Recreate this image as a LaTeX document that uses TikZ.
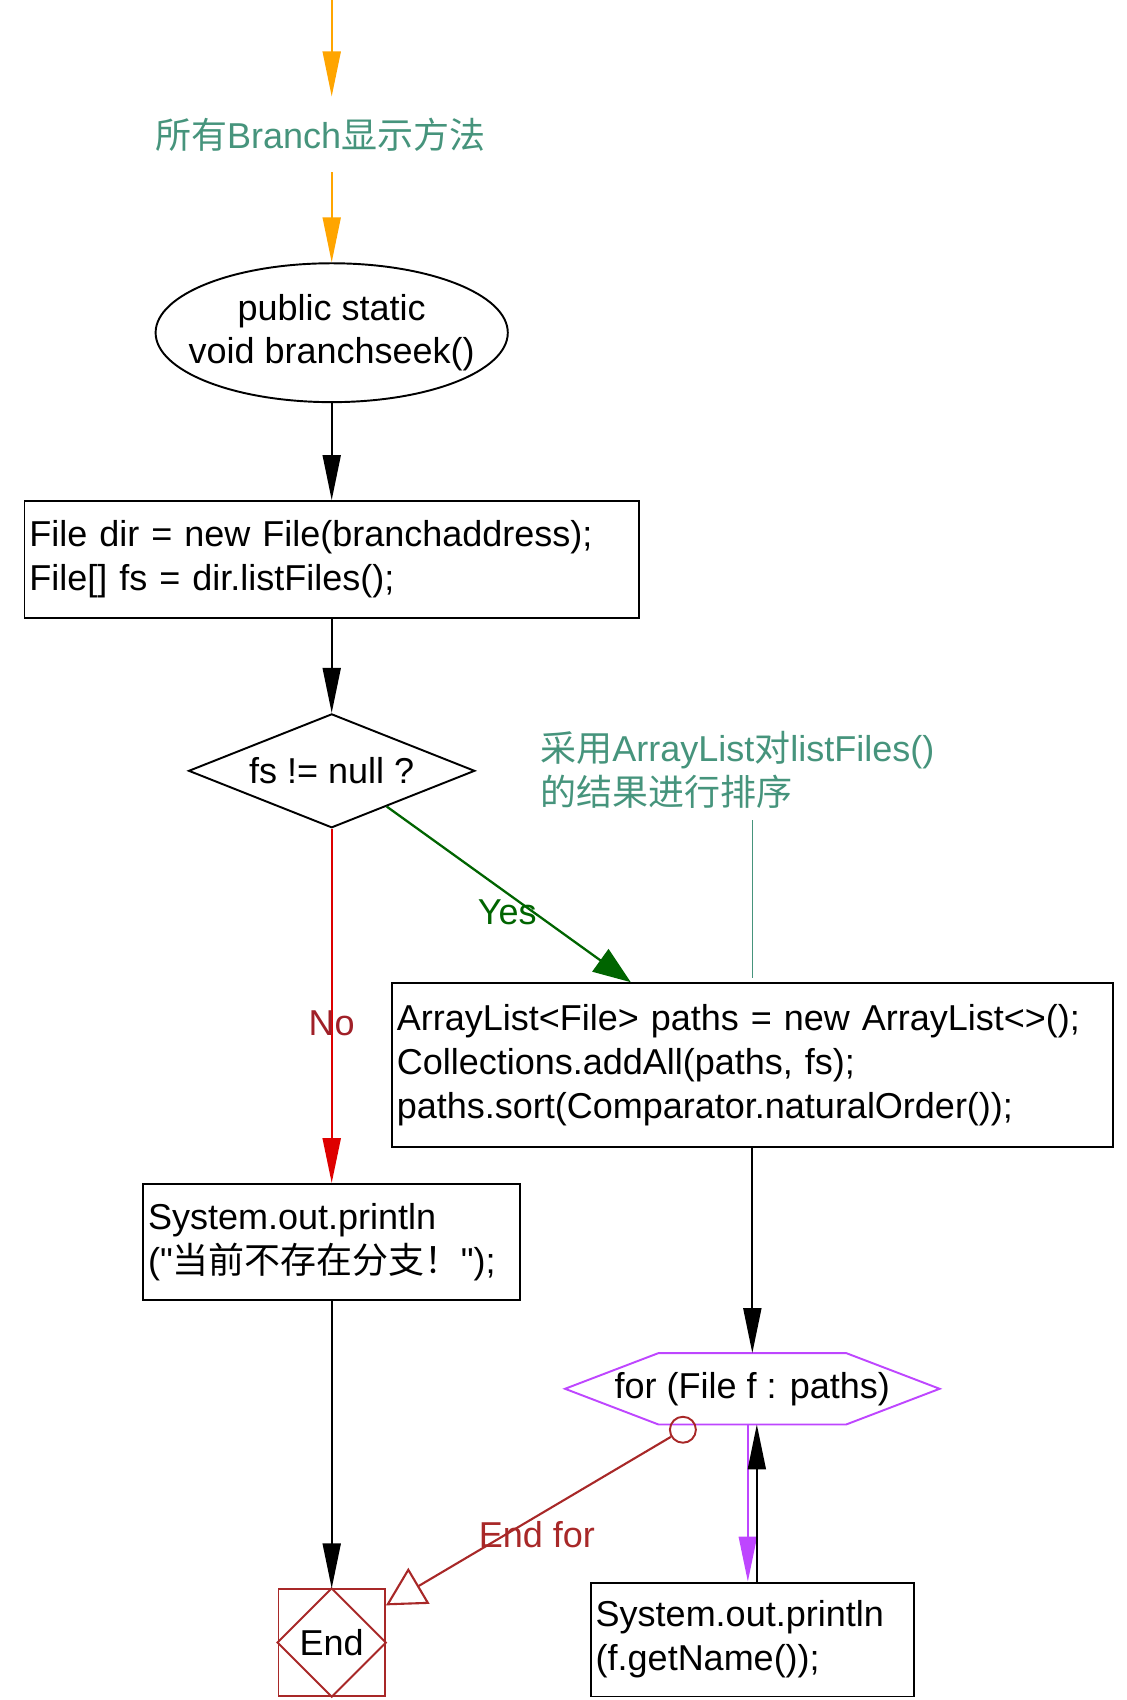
\documentclass[tikz,border=0pt]{standalone}
\usepackage{fontspec}
\setmainfont{Liberation Sans}
\newfontfamily\plainfont{Liberation Sans}
\newfontfamily\cjk{Noto Sans CJK SC}
\usepackage{tikz}
\usetikzlibrary{arrows.meta,positioning,shapes.geometric,calc}
\definecolor{flowOrange}{RGB}{255,165,0}
\definecolor{noteTeal}{RGB}{70,148,124}
\definecolor{yesGreen}{RGB}{0,100,0}
\definecolor{noRed}{RGB}{222,0,0}
\definecolor{noText}{RGB}{160,32,40}
\definecolor{endBrown}{RGB}{168,40,40}
\definecolor{loopPurple}{RGB}{190,70,255}

\begin{document}
\begin{tikzpicture}[
    font=\fontsize{20.5}{25}\selectfont,
    line width=1.1pt,
    box/.style={
        draw=black,
        line width=1.1pt,
        inner sep=0.1cm,
        align=left
    },
    arr/.style={-{Triangle[length=0.9cm,width=0.36cm]}, line width=1.1pt},
    inarr/.style={arr, draw=flowOrange, fill=flowOrange},
    yesarr/.style={-{Triangle[length=0.75cm,width=0.55cm]}, draw=yesGreen, line width=1.3pt},
    noarr/.style={arr, draw=noRed, line width=1.3pt},
    looparr/.style={arr, draw=loopPurple, line width=1.3pt},
    endarr/.style={-{Triangle[open,length=0.77cm,width=0.83cm]}, draw=endBrown, line width=1.2pt},
    noteline/.style={draw=noteTeal, line width=0.9pt}
]
\useasboundingbox (0,0) rectangle (22.55,-34.03);

\coordinate (top) at (6.64,0);

\node[text=noteTeal, inner sep=0pt, minimum height=1.48cm] (title) at (6.41,-2.69)
{{\cjk 所有}Branch{\cjk 显示方法}};

\node[draw, ellipse, line width=1.1pt, minimum width=7.05cm, minimum height=2.78cm,
      inner xsep=-0.6cm, inner ysep=0pt, align=center] (start) at (6.64,-6.66)
{public static\\void branchseek()};

\node[box, minimum width=12.30cm, minimum height=2.34cm, text width=12.10cm] (listing) at (6.64,-11.20)
{File dir = new File(branchaddress);\\
File[] fs = dir.listFiles();};

\node[draw, diamond, aspect=2.51, line width=1.1pt, minimum width=5.73cm,
      minimum height=2.28cm, inner sep=0pt] (check) at (6.64,-15.43)
{fs != null ?};

\node[text=noteTeal, anchor=west, align=left] (note) at (10.68,-15.41)
{{\cjk 采用}ArrayList{\cjk 对}listFiles()\\
{\cjk 的结果进行排序}};

\node[box, minimum width=14.43cm, minimum height=3.28cm, text width=14.23cm] (sorting) at (15.06,-21.32)
{ArrayList<File> paths = new ArrayList<>();\\
Collections.addAll(paths, fs);\\
paths.sort(Comparator.naturalOrder());};

\node[box, minimum width=7.55cm, minimum height=2.32cm, text width=7.35cm] (nofs) at (6.64,-24.86)
{System.out.println\\
({\plainfont"}{\cjk 当前不存在分支！}{\plainfont"});};

% for loop
\node[minimum width=7.46cm, minimum height=1.39cm, inner sep=0pt] (loop) at (15.06,-27.80)
{for (File f : paths)};
\draw[loopPurple, line width=1.1pt] (loop.west) -- ([xshift=1.87cm]loop.north west)
    -- ([xshift=-1.87cm]loop.north east) -- (loop.east)
    -- ([xshift=-1.87cm]loop.south east) -- ([xshift=1.87cm]loop.south west) -- cycle;

\node[draw=endBrown, circle, line width=1.1pt, minimum size=0.52cm, inner sep=0pt] (loopout) at (13.67,-28.62) {};

\node[box, minimum width=6.47cm, minimum height=2.28cm, text width=6.27cm] (printname) at (15.06,-32.82)
{System.out.println\\
(f.getName());};

\node[draw=endBrown, line width=1.1pt, minimum size=2.13cm, inner sep=0pt] (endn) at (6.64,-32.88) {End};
\draw[endBrown, line width=1.1pt] (endn.north) -- (endn.east) -- (endn.south) -- (endn.west) -- cycle;

% connectors
\draw[inarr] (top) -- (top |- title.north);
\draw[inarr] (top |- title.south) -- (start.north);
\draw[arr] (start.south) -- (listing.north);
\draw[arr] (listing.south) -- (check.north);
\draw[yesarr] (check.-33) -- ([xshift=4.80cm]sorting.north west)
    node[pos=0.6, xshift=-0.52cm, text=yesGreen] (yeslabel) {Yes};
\draw[noarr] (check.south) -- (nofs.north)
    node[pos=0.55, text=noText] (nolabel) {No};
\draw[noteline, shorten <=0.1cm, shorten >=0.09cm] (note.south -| sorting.north) -- (sorting.north);
\draw[arr] (sorting.south) -- (loop.north);
\draw[arr] (nofs.south) -- (endn.north);
\draw[looparr] ([xshift=-0.09cm]loop.south) -- ([xshift=-0.09cm]printname.north);
\draw[arr] ([xshift=0.09cm]printname.north) -- ([xshift=0.09cm]loop.south);
\draw[endarr] (loopout) -- ([yshift=-0.34cm]endn.north east)
    node[pos=0.47, yshift=-0.37cm, text=endBrown] (endforlabel) {End for};

\end{tikzpicture}
\end{document}
